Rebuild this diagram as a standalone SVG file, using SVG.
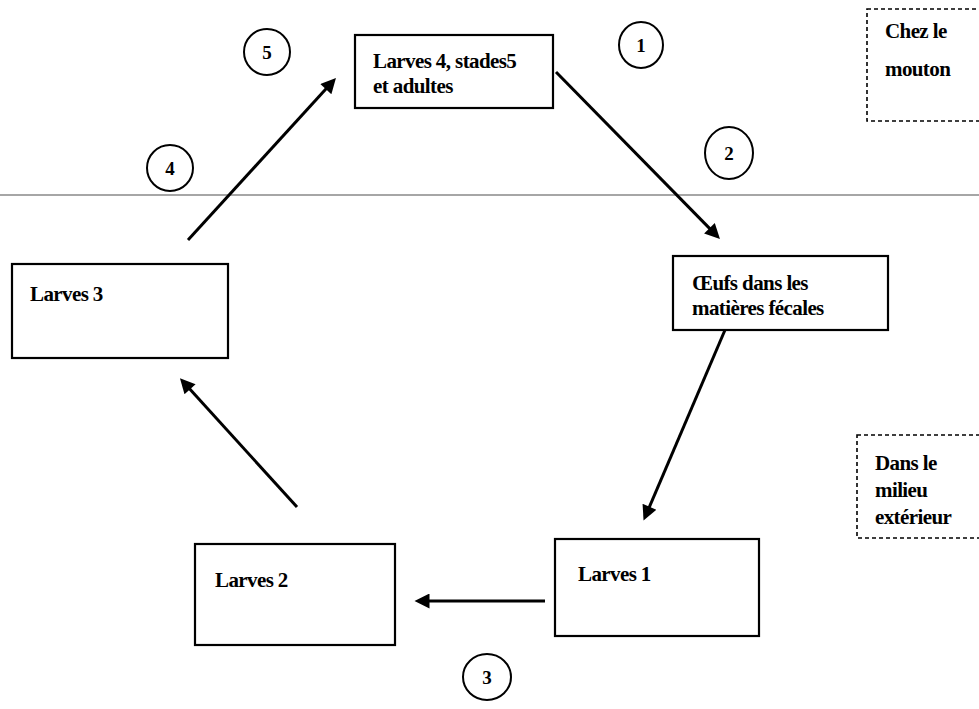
<svg xmlns="http://www.w3.org/2000/svg" width="979" height="709" viewBox="0 0 979 709">
<style>
  .box { fill: #fff; stroke: #000; stroke-width: 2.2; }
  .dash { fill: none; stroke: #000; stroke-width: 1.6; stroke-dasharray: 4 3; }
  .t { font-size: 21px; font-weight: bold; fill: #000; letter-spacing: -0.6px; }
  .num { font-size: 19px; font-weight: bold; fill: #000; text-anchor: middle; }
  .circ { fill: none; stroke: #000; stroke-width: 2; }
  .arrow { stroke: #000; stroke-width: 3; fill: none; marker-end: url(#ah); }
</style>
<defs>
  <marker id="ah" viewBox="0 0 10 10" markerWidth="6" markerHeight="5" refX="5" refY="5" orient="auto" markerUnits="strokeWidth">
    <path d="M0,0 L10,5 L0,10 z" fill="#000"/>
  </marker>
</defs>
<rect width="979" height="709" fill="#fff"/>

<line x1="0" y1="195" x2="979" y2="195" stroke="#888" stroke-width="1.5"/>

<g font-family="Liberation Serif, Times New Roman, serif">
<g id="zone-mouton">
  <rect class="dash" x="867" y="9" width="130" height="112"/>
  <text class="t" x="885" y="38">Chez le</text>
  <text class="t" x="885" y="76">mouton</text>
</g>
<g id="zone-exterieur">
  <rect class="dash" x="857" y="435" width="140" height="103"/>
  <text class="t" x="875" y="470">Dans le</text>
  <text class="t" x="875" y="497">milieu</text>
  <text class="t" x="875" y="524">extérieur</text>
</g>

<g id="n-larves4">
  <rect class="box" x="355" y="35" width="198" height="73"/>
  <text class="t" x="373" y="68">Larves 4, stades5</text>
  <text class="t" x="373" y="93">et adultes</text>
</g>
<g id="n-oeufs">
  <rect class="box" x="673" y="256" width="215" height="74"/>
  <text class="t" x="692" y="290">Œufs dans les</text>
  <text class="t" x="692" y="315">matières fécales</text>
</g>
<g id="n-larves1">
  <rect class="box" x="555" y="539" width="204" height="97"/>
  <text class="t" x="578" y="581">Larves 1</text>
</g>
<g id="n-larves2">
  <rect class="box" x="195" y="544" width="200" height="101"/>
  <text class="t" x="215" y="587">Larves 2</text>
</g>
<g id="n-larves3">
  <rect class="box" x="12" y="264" width="216" height="94"/>
  <text class="t" x="30" y="301">Larves 3</text>
</g>

<g id="c1"><ellipse class="circ" cx="641" cy="45" rx="22" ry="23"/><text class="num" x="641" y="52">1</text></g>
<g id="c2"><ellipse class="circ" cx="729" cy="153" rx="24" ry="26"/><text class="num" x="729" y="160">2</text></g>
<g id="c3"><ellipse class="circ" cx="487" cy="677" rx="24" ry="23"/><text class="num" x="487" y="684">3</text></g>
<g id="c4"><ellipse class="circ" cx="170" cy="168" rx="23" ry="23"/><text class="num" x="170" y="175">4</text></g>
<g id="c5"><ellipse class="circ" cx="267" cy="52" rx="23" ry="23"/><text class="num" x="267" y="59">5</text></g>
</g>

<g id="connectors">
  <line class="arrow" x1="556" y1="72" x2="714.7" y2="233.6"/>
  <line class="arrow" x1="725" y1="330" x2="646.5" y2="513.7"/>
  <line class="arrow" x1="545" y1="601" x2="422" y2="601"/>
  <line class="arrow" x1="297" y1="507" x2="185" y2="383.7"/>
  <line class="arrow" x1="188" y1="240" x2="330.9" y2="83.6"/>
</g>
</svg>
